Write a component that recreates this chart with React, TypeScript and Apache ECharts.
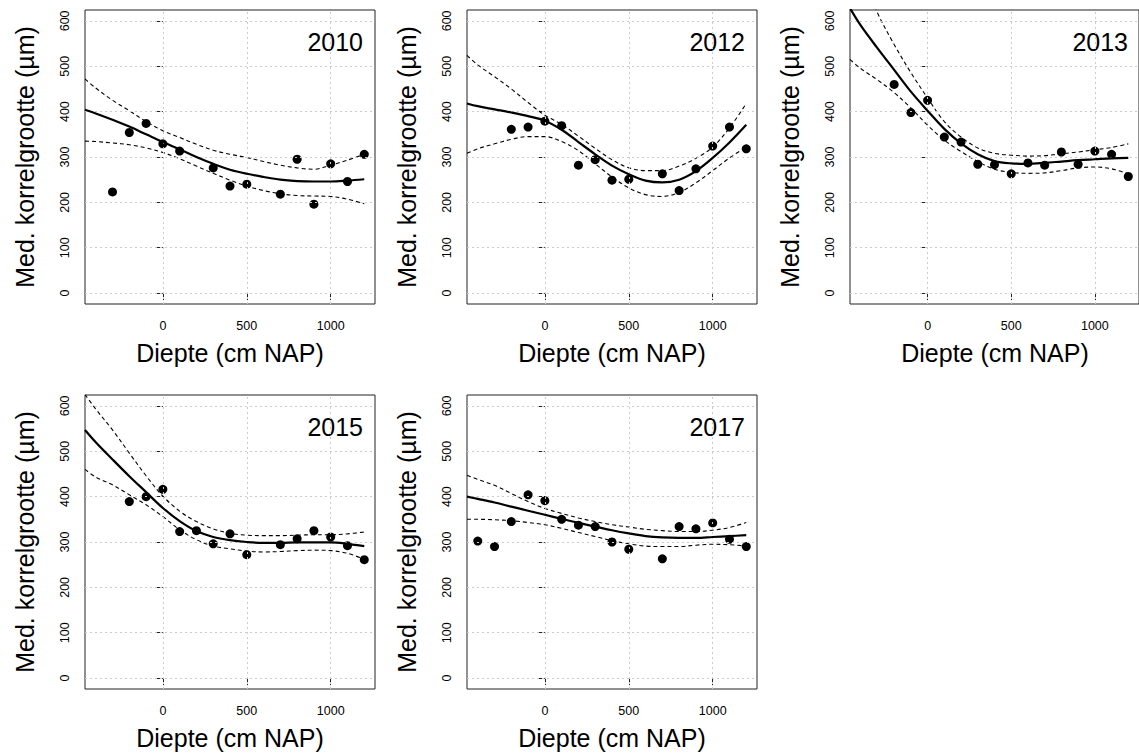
import React, { useEffect, useRef } from "react";
import * as echarts from "echarts";

// x positions (cm NAP) at which the fitted curves and bands are read
const CURVE_X = [-464, -400, -300, -200, -100, 0, 100, 200, 300, 400, 500, 600, 700, 800, 900, 1000, 1100, 1200];

// 2010
const X_2010 = [-300, -200, -100, 0, 100, 300, 400, 500, 700, 800, 900, 1000, 1100, 1200];
const Y_2010 = [223, 354, 374, 329, 313, 276, 236, 240, 218, 295, 196, 285, 246, 306];
const FIT_2010 = [404, 396, 382, 367, 350, 333, 317, 300, 285, 272, 263, 256, 250, 247, 246, 246, 248, 251];
const UP_2010 = [472, 452, 425, 402, 378, 358, 343, 328, 315, 306, 299, 290, 282, 276, 273, 282, 293, 306];
const LO_2010 = [335, 334, 331, 327, 320, 310, 296, 280, 264, 249, 236, 226, 219, 215, 214, 213, 207, 197];

// 2012
const X_2012 = [-200, -100, 0, 100, 200, 300, 400, 500, 700, 800, 900, 1000, 1100, 1200];
const Y_2012 = [361, 366, 379, 369, 282, 294, 249, 251, 263, 226, 274, 324, 366, 318];
const FIT_2012 = [418, 412, 405, 398, 390, 380, 360, 333, 306, 281, 262, 248, 244, 250, 269, 298, 332, 371];
const UP_2012 = [524, 503, 477, 450, 420, 392, 372, 346, 319, 294, 276, 270, 270, 280, 297, 322, 364, 418];
const LO_2012 = [308, 318, 329, 339, 345, 345, 334, 314, 285, 256, 232, 217, 213, 222, 243, 270, 298, 322];

// 2013
const X_2013 = [-200, -100, 0, 100, 200, 300, 400, 500, 600, 700, 800, 900, 1000, 1100, 1200];
const Y_2013 = [460, 398, 425, 344, 333, 284, 283, 263, 287, 282, 311, 284, 313, 306, 257];
const FIT_2013 = [628, 590, 540, 492, 444, 402, 362, 330, 306, 291, 286, 285, 287, 290, 293, 295, 297, 298];
const UP_2013 = [760, 710, 618, 548, 486, 430, 378, 344, 320, 308, 304, 302, 303, 307, 311, 316, 321, 329];
const LO_2013 = [515, 495, 470, 442, 408, 370, 337, 312, 290, 273, 266, 264, 265, 270, 276, 278, 274, 263];

// 2015
const X_2015 = [-200, -100, 0, 100, 200, 300, 400, 500, 700, 800, 900, 1000, 1100, 1200];
const Y_2015 = [389, 400, 416, 323, 325, 296, 318, 272, 294, 307, 325, 311, 292, 261];
const FIT_2015 = [547, 520, 482, 445, 410, 375, 346, 324, 311, 304, 300, 298, 298, 299, 299, 299, 296, 291];
const UP_2015 = [625, 593, 547, 496, 446, 401, 368, 345, 329, 319, 315, 314, 314, 315, 316, 316, 318, 322];
const LO_2015 = [460, 443, 426, 404, 382, 356, 327, 305, 291, 285, 280, 278, 279, 281, 282, 281, 275, 262];

// 2017
const X_2017 = [-400, -300, -200, -100, 0, 100, 200, 300, 400, 500, 700, 800, 900, 1000, 1100, 1200];
const Y_2017 = [302, 290, 345, 404, 391, 350, 337, 334, 300, 284, 263, 334, 329, 342, 306, 290];
const FIT_2017 = [400, 395, 387, 378, 369, 360, 351, 342, 334, 326, 319, 313, 310, 309, 309, 311, 313, 315];
const UP_2017 = [447, 438, 425, 407, 389, 374, 363, 353, 345, 338, 333, 328, 325, 323, 323, 326, 332, 343];
const LO_2017 = [350, 350, 349, 347, 343, 338, 330, 321, 312, 303, 296, 291, 290, 290, 293, 295, 294, 291];

const X_TICKS = [0, 500, 1000];
const Y_TICKS = [0, 100, 200, 300, 400, 500, 600];
const X_TITLE = "Diepte (cm NAP)";
const Y_TITLE = "Med. korrelgrootte (µm)";

const PANELS = [
  { year: "2010", px: X_2010, py: Y_2010, fit: FIT_2010, up: UP_2010, lo: LO_2010 },
  { year: "2012", px: X_2012, py: Y_2012, fit: FIT_2012, up: UP_2012, lo: LO_2012 },
  { year: "2013", px: X_2013, py: Y_2013, fit: FIT_2013, up: UP_2013, lo: LO_2013 },
  { year: "2015", px: X_2015, py: Y_2015, fit: FIT_2015, up: UP_2015, lo: LO_2015 },
  { year: "2017", px: X_2017, py: Y_2017, fit: FIT_2017, up: UP_2017, lo: LO_2017 },
];

const LAYOUT = [
  { left: 85, top: 10 },
  { left: 467, top: 10 },
  { left: 850, top: 10 },
  { left: 85, top: 395 },
  { left: 467, top: 395 },
];
const GW = 290;
const GH = 294;
const FONT = "'Liberation Sans', Arial, Helvetica, sans-serif";

export default function App() {
  const ref = useRef<HTMLDivElement>(null);
  useEffect(() => {
    if (!ref.current) return;
    const chart = echarts.init(ref.current, null, { renderer: "svg" });
    const grids: any[] = [];
    const xAxes: any[] = [];
    const yAxes: any[] = [];
    const series: any[] = [];
    const graphics: any[] = [];

    PANELS.forEach((p, i) => {
      const L = LAYOUT[i];
      grids.push({
        left: L.left,
        top: L.top,
        width: GW,
        height: GH,
        show: true,
        borderColor: "#222",
        borderWidth: 1,
        backgroundColor: "transparent",
      });
      xAxes.push({
        type: "value",
        gridIndex: i,
        min: -464,
        max: 1264,
        axisLine: { show: false },
        splitLine: { show: false },
        axisTick: { show: true, customValues: X_TICKS, length: 7, lineStyle: { color: "#222", width: 1 } },
        axisLabel: {
          customValues: X_TICKS,
          fontSize: 12.5,
          color: "#000",
          margin: 15,
          fontFamily: FONT,
          formatter: (v: number) => String(v),
        },
      });
      yAxes.push({
        type: "value",
        gridIndex: i,
        min: -24,
        max: 624,
        axisLine: { show: false },
        splitLine: { show: false },
        axisTick: { show: true, customValues: Y_TICKS, length: 7, lineStyle: { color: "#222", width: 1 } },
        axisLabel: {
          customValues: Y_TICKS,
          rotate: 90,
          fontSize: 12.5,
          color: "#000",
          margin: 14,
          fontFamily: FONT,
          formatter: (v: number) => String(v),
        },
      });
      const pts = p.px.map((x, k) => [x, p.py[k]]);
      series.push({
        type: "scatter",
        xAxisIndex: i,
        yAxisIndex: i,
        data: pts,
        symbol: "circle",
        symbolSize: 9,
        itemStyle: { color: "#000", opacity: 1 },
        z: 3,
        silent: true,
        markLine: {
          silent: true,
          symbol: "none",
          label: { show: false },
          lineStyle: { color: "#cccccc", width: 1, type: [2, 3] },
          emphasis: { disabled: true },
          data: [...X_TICKS.map((v) => ({ xAxis: v })), ...Y_TICKS.map((v) => ({ yAxis: v }))],
        },
      });
      const mk = (vals: number[], width: number, type: any, z: number) => ({
        type: "line",
        xAxisIndex: i,
        yAxisIndex: i,
        data: CURVE_X.map((x, k) => [x, vals[k]]),
        showSymbol: false,
        smooth: 0.35,
        clip: true,
        silent: true,
        lineStyle: { color: "#000", width, type },
        z,
      });
      series.push(mk(p.fit, 2.2, "solid", 5));
      series.push(mk(p.up, 1.1, [4, 3], 4));
      series.push(mk(p.lo, 1.1, [4, 3], 4));

      graphics.push({
        type: "text",
        x: L.left + GW - 12,
        y: L.top + 32,
        style: { text: p.year, align: "right", verticalAlign: "middle", fontSize: 25, fill: "#000", fontFamily: FONT },
      });
      graphics.push({
        type: "text",
        x: L.left + GW / 2,
        y: L.top + GH + 49,
        style: { text: X_TITLE, align: "center", verticalAlign: "middle", fontSize: 25, fill: "#000", fontFamily: FONT },
      });
      graphics.push({
        type: "text",
        x: L.left - 60,
        y: L.top + GH / 2,
        rotation: Math.PI / 2,
        style: { text: Y_TITLE, align: "center", verticalAlign: "middle", fontSize: 25, fill: "#000", fontFamily: FONT },
      });
    });

    chart.setOption({
      animation: false,
      backgroundColor: "#ffffff",
      textStyle: { fontFamily: FONT },
      grid: grids,
      xAxis: xAxes,
      yAxis: yAxes,
      series,
      graphic: graphics,
    });
    return () => chart.dispose();
  }, []);
  return (
    <div
      ref={ref}
      style={{ position: "absolute", left: 0, top: 0, width: 1139, height: 756, background: "#fff" }}
    />
  );
}
